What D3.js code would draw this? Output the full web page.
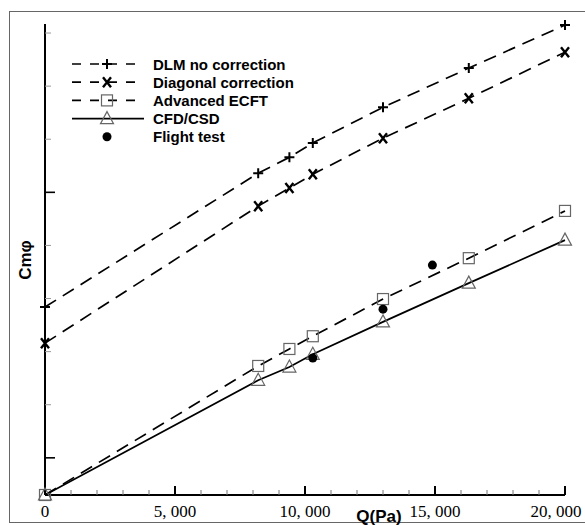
<!DOCTYPE html>
<html>
<head>
<meta charset="utf-8">
<script src="https://cdn.jsdelivr.net/npm/d3@7"></script>
<style>
  body { margin: 0; background: #fff; }
  svg { display: block; }
</style>
</head>
<body>
<svg id="chart" width="585" height="525"></svg>
<script>
// Q (Pa) sample points
const qDLM = [0, 8200, 9400, 10300, 13000, 16300, 20000];
const qCFD = [0, 8200, 9400, 10300, 13000, 16300, 20000];
const qFlight = [10300, 13000, 14900];

// Cmphi values (arbitrary units, origin at 0)
const dlmNoCorrection = [3.54, 6.06, 6.36, 6.63, 7.30, 8.04, 8.85];
const diagonalCorrection = [2.86, 5.44, 5.78, 6.04, 6.72, 7.47, 8.34];
const advancedECFT = [0, 2.43, 2.75, 2.99, 3.69, 4.46, 5.35];
const cfdCSD = [0, 2.16, 2.41, 2.65, 3.26, 3.99, 4.80];
const flightTest = [2.58, 3.50, 4.33];

const xMajorTicks = [0, 5000, 10000, 15000, 20000];
const xMinorTicks = d3.range(0, 20001, 1000);
const yTicks = d3.range(0, 9).map(n => 0.7 + n);
const yMajorTicks = [0.7, 5.7];

const legendLabels = ["DLM no correction", "Diagonal correction", "Advanced ECFT", "CFD/CSD", "Flight test"];

const svg = d3.select("#chart");

// outer frame
svg.append("rect")
    .attr("x", 9.5).attr("y", 11.5)
    .attr("width", 590).attr("height", 511)
    .attr("fill", "none").attr("stroke", "#666").attr("stroke-width", 1);

const x = d3.scaleLinear().domain([0, 20000]).range([45, 565]);
const y = d3.scaleLinear().domain([0, 8.87]).range([495, 24]);

const g = svg.append("g");

// y axis
g.append("line")
    .attr("x1", 45).attr("x2", 45)
    .attr("y1", y(8.87)).attr("y2", y(0))
    .attr("stroke", "#000").attr("stroke-width", 2);
g.selectAll("line.ytick").data(yTicks).enter().append("line")
    .attr("class", "ytick")
    .attr("x1", 45)
    .attr("x2", d => yMajorTicks.includes(d) ? 55 : 51)
    .attr("y1", d => y(d)).attr("y2", d => y(d))
    .attr("stroke", d => yMajorTicks.includes(d) ? "#000" : "#999")
    .attr("stroke-width", d => yMajorTicks.includes(d) ? 1.6 : 1);

// x axis
const xAxis = g.append("g").attr("transform", `translate(0, ${y(0)})`);
xAxis.append("line")
    .attr("x1", x(0)).attr("x2", x(20000))
    .attr("stroke", "#000").attr("stroke-width", 2);
xAxis.selectAll("line.minor").data(xMinorTicks.filter(d => !xMajorTicks.includes(d))).enter().append("line")
    .attr("class", "minor")
    .attr("x1", d => x(d)).attr("x2", d => x(d))
    .attr("y1", 0).attr("y2", -5)
    .attr("stroke", "#777").attr("stroke-width", 1);
xAxis.selectAll("line.major").data(xMajorTicks.slice(1)).enter().append("line")
    .attr("class", "major")
    .attr("x1", d => x(d)).attr("x2", d => x(d))
    .attr("y1", 0).attr("y2", -9)
    .attr("stroke", "#000").attr("stroke-width", 2);
xAxis.selectAll("text").data(xMajorTicks).enter().append("text")
    .attr("x", d => Math.min(x(d), 556))
    .attr("y", 22)
    .attr("text-anchor", "middle")
    .attr("font-family", "'Liberation Serif', 'DejaVu Serif', serif")
    .attr("font-size", 17)
    .text(d => d === 0 ? "0" : d3.format(",")(d).replace(",", ", "));

// axis titles
svg.append("text")
    .attr("x", 379).attr("y", 522)
    .attr("text-anchor", "middle")
    .attr("font-family", "'Liberation Sans', Arial, sans-serif")
    .attr("font-weight", "bold").attr("font-size", 17)
    .text("Q(Pa)");
svg.append("text")
    .attr("transform", "translate(31, 260) rotate(-90)")
    .attr("text-anchor", "middle")
    .attr("font-family", "'Liberation Sans', Arial, sans-serif")
    .attr("font-weight", "bold").attr("font-size", 17)
    .text("Cmφ");

const line = d3.line().x(d => x(d[0])).y(d => y(d[1]));
const zip = (qs, vs) => qs.map((q, i) => [q, vs[i]]);

const series = [
    { data: zip(qDLM, dlmNoCorrection), dash: "13,8", marker: "plus" },
    { data: zip(qDLM, diagonalCorrection), dash: "13,8", marker: "cross" },
    { data: zip(qCFD, advancedECFT), dash: "13,8", marker: "square" },
    { data: zip(qCFD, cfdCSD), dash: null, marker: "triangle" }
];

function drawMarker(sel, type) {
    if (type === "plus") {
        sel.append("path").attr("d", "M-5,0H5M0,-5V5")
            .attr("stroke", "#000").attr("stroke-width", 2).attr("fill", "none");
    } else if (type === "cross") {
        sel.append("path").attr("d", "M-4,-5L4,5M-4,5L4,-5")
            .attr("stroke", "#000").attr("stroke-width", 2.4).attr("fill", "none");
    } else if (type === "square") {
        sel.append("rect").attr("x", -5.5).attr("y", -5.5).attr("width", 11).attr("height", 11)
            .attr("fill", "none")
            .attr("stroke", "#666").attr("stroke-width", 1.2);
    } else if (type === "triangle") {
        sel.append("path").attr("d", "M0,-7L6.5,5L-6.5,5Z")
            .attr("fill", "none")
            .attr("stroke", "#666").attr("stroke-width", 1.2);
    } else if (type === "dot") {
        sel.append("circle").attr("r", 4.5).attr("fill", "#000");
    }
}

series.forEach(s => {
    g.append("path")
        .datum(s.data)
        .attr("d", line)
        .attr("fill", "none")
        .attr("stroke", "#000")
        .attr("stroke-width", 1.7)
        .attr("stroke-dasharray", s.dash);
    g.selectAll(null).data(s.data).enter().append("g")
        .attr("transform", d => `translate(${x(d[0])}, ${y(d[1])})`)
        .each(function() { drawMarker(d3.select(this), s.marker); });
});

g.selectAll(null).data(zip(qFlight, flightTest)).enter().append("g")
    .attr("transform", d => `translate(${x(d[0])}, ${y(d[1])})`)
    .each(function() { drawMarker(d3.select(this), "dot"); });

// legend
const legendMarkers = ["plus", "cross", "square", "triangle", "dot"];
const legendDash = ["9,9", "9,9", "9,9", null, "none"];
const legend = svg.append("g").attr("transform", "translate(72, 64)");
legendLabels.forEach((label, i) => {
    const row = legend.append("g").attr("transform", `translate(0, ${i * 18.2})`);
    if (legendDash[i] !== "none") {
        row.append("line")
            .attr("x1", 0).attr("x2", 72)
            .attr("stroke", "#000").attr("stroke-width", 1.7)
            .attr("stroke-dasharray", legendDash[i]);
    }
    drawMarker(row.append("g").attr("transform", "translate(35, 0)"), legendMarkers[i]);
    row.append("text")
        .attr("x", 81).attr("y", 5.5)
        .attr("font-family", "'Liberation Sans', Arial, sans-serif")
        .attr("font-weight", "bold").attr("font-size", 15)
        .text(label);
});
</script>
</body>
</html>
